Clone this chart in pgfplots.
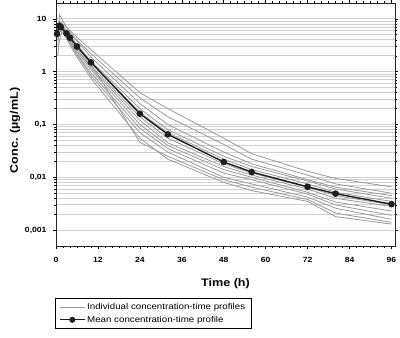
\documentclass[border=0pt]{standalone}
\usepackage{fontspec}
\setmainfont{Liberation Sans}
\newfontfamily\widefont[FakeStretch=1.15]{Liberation Sans}
\usepackage{pgfplots}
\pgfplotsset{compat=1.18}
\definecolor{indiv}{HTML}{9A9A9A}
\definecolor{gridc}{HTML}{D0D0D0}
\definecolor{meanc}{HTML}{1E1E1E}
\begin{document}
\begin{tikzpicture}[x=1bp,y=1bp]
\useasboundingbox (0,0) rectangle (400,338);
\begin{semilogyaxis}[
  at={(56bp,92bp)}, anchor=south west,
  scale only axis, width=339bp, height=243bp,
  xmin=0, xmax=97, ymin=0.0005, ymax=20,
  xtick={0,12,24,36,48,60,72,84,96},
  minor x tick num=5,
  ytick={0.001,0.01,0.1,1,10},
  yticklabels={{0,001},{0,01},{0,1},1,10},
  tick align=outside,
  major tick length=3bp, minor tick length=2bp,
  tick style={black, line width=0.6pt},
  axis line style={draw=black!85, line width=0.9pt},
  ymajorgrids, yminorgrids,
  major grid style={gridc, line width=0.9pt},
  minor grid style={gridc, line width=0.9pt},
  /pgf/number format/assume math mode=true,
  tick label style={font=\widefont\fontsize{7.5}{8}\selectfont\bfseries},
  xticklabel style={yshift=-5bp},
  yticklabel style={xshift=-3bp},
  xlabel={Time (h)}, ylabel={Conc. (µg/mL)},
  label style={font=\widefont\fontsize{11}{12}\selectfont\bfseries},
  xlabel style={yshift=-9bp},
  ylabel style={yshift=-2bp, xshift=-6bp},
  legend style={at={(-0.003,-0.214)}, anchor=north west, draw=black, line width=0.8pt,
    font=\widefont\fontsize{8.5}{10}\selectfont, inner xsep=4bp, inner ysep=3bp, row sep=1pt},
  legend cell align=left,
  legend image code/.code={\draw[mark repeat=2,mark phase=2,#1] plot coordinates {(0bp,0bp)(12.5bp,0bp)(25bp,0bp)};},
  legend image post style={line width=0.8pt},
  clip=true,
]
\addplot[indiv, line width=0.8pt] coordinates {(0.5,6.5)(1,9)(2,8)(3,7)(4,6)(6,4.5)(10,2.6)(24,0.40)(32,0.20)(48,0.055)(56,0.028)(72,0.013)(80,0.0095)(96,0.0066)};
\addlegendentry{Individual concentration-time profiles}
\addplot[indiv, line width=0.8pt, forget plot] coordinates {(0.5,5)(1,7.5)(2,7)(3,6.2)(4,5.5)(6,4)(10,2.2)(24,0.32)(32,0.14)(48,0.042)(56,0.022)(72,0.011)(80,0.0075)(96,0.005)};
\addplot[indiv, line width=0.8pt, forget plot] coordinates {(0.5,4)(1,12)(2,9)(3,7)(4,5.5)(6,3.8)(10,1.9)(24,0.25)(32,0.10)(48,0.030)(56,0.018)(72,0.009)(80,0.0065)(96,0.0045)};
\addplot[indiv, line width=0.8pt, forget plot] coordinates {(0.5,5.5)(1,7)(2,6.5)(3,5.5)(4,4.6)(6,3.2)(10,1.6)(24,0.20)(32,0.08)(48,0.025)(56,0.016)(72,0.0085)(80,0.006)(96,0.004)};
\addplot[indiv, line width=0.8pt, forget plot] coordinates {(0.5,2.0)(1,4)(2,6.5)(3,5.8)(4,4.8)(6,3.3)(10,1.5)(24,0.17)(32,0.07)(48,0.022)(56,0.014)(72,0.0075)(80,0.0052)(96,0.0035)};
\addplot[indiv, line width=0.8pt, forget plot] coordinates {(0.5,6)(1,8)(2,7)(3,5)(4,4)(6,2.7)(10,1.3)(24,0.14)(32,0.055)(48,0.018)(56,0.012)(72,0.0065)(80,0.0045)(96,0.0030)};
\addplot[indiv, line width=0.8pt, forget plot] coordinates {(0.5,7)(1,8.5)(2,7)(3,5)(4,4)(6,2.6)(10,1.2)(24,0.12)(32,0.045)(48,0.016)(56,0.011)(72,0.006)(80,0.004)(96,0.0028)};
\addplot[indiv, line width=0.8pt, forget plot] coordinates {(0.5,5)(1,6.5)(2,6)(3,4.8)(4,3.8)(6,2.4)(10,1.1)(24,0.10)(32,0.04)(48,0.014)(56,0.010)(72,0.0052)(80,0.0034)(96,0.0023)};
\addplot[indiv, line width=0.8pt, forget plot] coordinates {(0.5,4.5)(1,7)(2,6)(3,4.5)(4,3.6)(6,2.2)(10,0.95)(24,0.085)(32,0.035)(48,0.012)(56,0.009)(72,0.0048)(80,0.003)(96,0.0019)};
\addplot[indiv, line width=0.8pt, forget plot] coordinates {(0.5,6)(1,7.5)(2,6.2)(3,4.5)(4,3.5)(6,2.1)(10,0.85)(24,0.07)(32,0.03)(48,0.010)(56,0.0075)(72,0.0042)(80,0.0026)(96,0.0016)};
\addplot[indiv, line width=0.8pt, forget plot] coordinates {(0.5,5)(1,6)(2,5.5)(3,4.2)(4,3.2)(6,1.9)(10,0.75)(24,0.055)(32,0.022)(48,0.008)(56,0.0056)(72,0.0035)(80,0.0018)(96,0.0013)};
\addplot[indiv, line width=0.8pt, forget plot] coordinates {(0.5,3)(1,9)(2,7)(3,5.5)(4,4.5)(6,3.0)(10,1.4)(24,0.046)(32,0.025)(48,0.009)(56,0.0065)(72,0.0038)(80,0.0021)(96,0.0014)};
\addplot[meanc, line width=1.4pt, mark=*, mark size=2.6pt, mark options={fill=meanc, draw=meanc}] coordinates {(0.3,5.2)(0.9,7.4)(1.4,7.0)(3,5.3)(4,4.4)(6,3.0)(10,1.5)(24,0.16)(32,0.065)(48,0.0195)(56,0.0126)(72,0.0066)(80,0.0049)(96,0.0031)};
\addlegendentry{Mean concentration-time profile}
\end{semilogyaxis}
\end{tikzpicture}
\end{document}
